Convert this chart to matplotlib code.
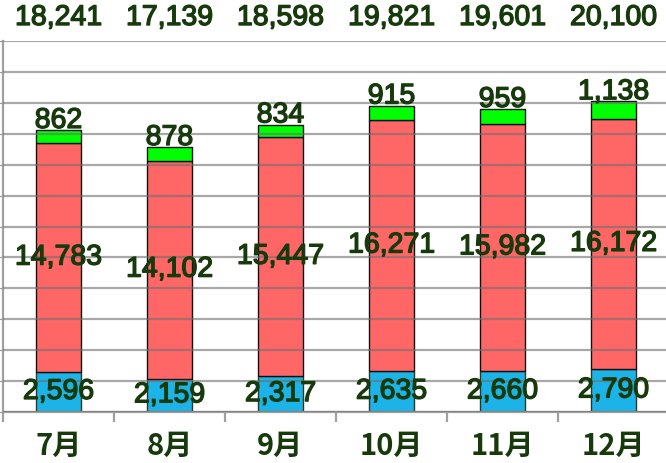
import matplotlib
matplotlib.use("Agg")
import matplotlib.pyplot as plt
import matplotlib.patheffects as pe
import matplotlib.transforms as mtransforms
import numpy as np

months = ["7月", "8月", "9月", "10月", "11月", "12月"]
blue_vals = [2596, 2159, 2317, 2635, 2660, 2790]
red_vals = [14783, 14102, 15447, 16271, 15982, 16172]
green_vals = [862, 878, 834, 915, 959, 1138]
totals = [18241, 17139, 18598, 19821, 19601, 20100]

blue_c = "#1cb4e8"
red_c = "#ff6666"
green_c = "#00ff00"
txt_c = "#163a0c"

fig = plt.figure(figsize=(6.66, 4.64), dpi=100)
ax = fig.add_axes([3/666, 51/464, 666/666, 371/464])

x = np.arange(len(months))
w = 0.4
blue = np.array(blue_vals)
red = np.array(red_vals)
green = np.array(green_vals)

ax.bar(x, blue, w, color=blue_c, edgecolor="#2a3a20", linewidth=1, zorder=2)
ax.bar(x, red, w, bottom=blue, color=red_c, edgecolor="#111111", linewidth=1, zorder=2)
ax.bar(x, green, w, bottom=blue + red, color=green_c, edgecolor="#111111", linewidth=1, zorder=2)

ax.set_xlim(-0.5, len(months) - 0.5)
ax.set_ylim(0, 24000)
ax.set_yticks(np.arange(0, 24001, 2000))
ax.yaxis.grid(True, color="#6e6e6e", alpha=0.6, linewidth=1.6, zorder=3)
ax.set_axisbelow(False)
ax.tick_params(axis="y", labelleft=False, length=3, color="#9a9a9a", direction="out")

ax.set_xticks(x)
ax.set_xticklabels(months, fontsize=21, fontweight="bold", color=txt_c,
                   family=["Noto Sans CJK JP", "DejaVu Sans"])
ax.tick_params(axis="x", length=0, pad=13)
ax.set_xticks(np.arange(-0.5, len(months), 1), minor=True)
ax.tick_params(axis="x", which="minor", length=7, width=1.6, color="#a0a0a0")

for s in ["top", "right"]:
    ax.spines[s].set_visible(False)
for s in ["left", "bottom"]:
    ax.spines[s].set_color("#a0a0a0")
    ax.spines[s].set_linewidth(1.6)

effects = [pe.withStroke(linewidth=1.0, foreground=txt_c)]
fs = 20.5
fam = "Liberation Sans"
for i in range(len(months)):
    ax.text(x[i], blue[i] / 2, f"{blue_vals[i]:,}", ha="center", va="center",
            fontsize=fs, color=txt_c, family=fam, zorder=5, path_effects=effects)
    ax.text(x[i], blue[i] + red[i] / 2, f"{red_vals[i]:,}", ha="center", va="center",
            fontsize=fs, color=txt_c, family=fam, zorder=5, path_effects=effects)
    ax.annotate(f"{green_vals[i]:,}", xy=(x[i], blue[i] + red[i] + green[i]),
                xytext=(0, 1.5), textcoords="offset points", ha="center", va="baseline",
                fontsize=fs, color=txt_c, family=fam, zorder=5, path_effects=effects)

trans = mtransforms.blended_transform_factory(ax.transData, ax.transAxes)
for i in range(len(months)):
    ax.text(x[i], 1 + 16/371, f"{totals[i]:,}", transform=trans, ha="center", va="baseline",
            fontsize=fs, color=txt_c, family=fam, clip_on=False, path_effects=effects)

fig.savefig("out.png", dpi=100)
